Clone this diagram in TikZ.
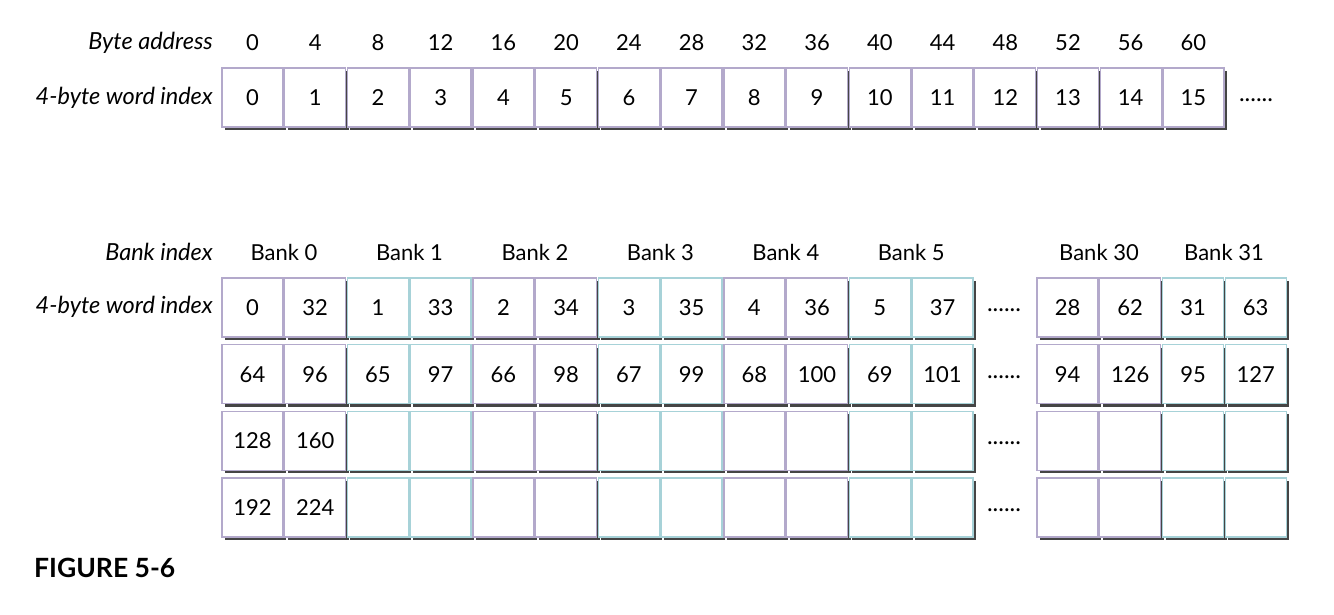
\documentclass[tikz,border=0pt]{standalone}
\usepackage{fontspec}
\setmainfont{Lato}
\usetikzlibrary{shadows}
\definecolor{lav}{HTML}{B3A9CB}
\definecolor{tealc}{HTML}{A7D2D8}
\definecolor{shd}{HTML}{454545}
\tikzset{
  cell/.style={draw=#1, line width=1.4pt, fill=white, minimum width=61pt, minimum height=59pt,
    inner sep=0pt, font=\fontsize{22}{26}\selectfont,
    drop shadow={shadow xshift=3pt, shadow yshift=-3pt, fill=shd, opacity=1}},
  cell/.default=lav,
  lbl/.style={anchor=east, inner sep=0pt, font=\fontsize{23.5}{28}\selectfont\itshape},
  hdr/.style={inner sep=0pt, font=\fontsize{22}{26}\selectfont},
  dots/.style={inner sep=0pt, font=\fontsize{24}{28}\selectfont},
}
\begin{document}
\begin{tikzpicture}[x=1pt,y=-1pt]
\useasboundingbox (0,0) rectangle (1334,614);
% top labels
\node[lbl] (ba) at (213,43) {Byte address};
\node[lbl] (wi1) at (213,98) {4-byte word index};
\foreach \i in {0,...,15}{
  \pgfmathtruncatemacro\addr{4*\i}
  \node[hdr] (a\i) at (252.5+62.73*\i,43) {\addr};
  \node[cell] (t\i) at (252.5+62.73*\i,97.5) {\i};
}
\node[dots] (tdots) at (1256,100) {......};
% bank labels
\node[lbl] (bi) at (213,252) {Bank index};
\node[lbl] (wi2) at (213,307) {4-byte word index};
\foreach \b in {0,...,5}{
  \node[hdr] (bank\b) at (284+125.46*\b,252) {Bank \b};
}
\node[hdr] (bank30) at (1099,252) {Bank 30};
\node[hdr] (bank31) at (1224,252) {Bank 31};
% bank cells
\foreach \r in {0,...,3}{
  \foreach \b in {0,...,5}{
    \pgfmathtruncatemacro\odd{mod(\b,2)}
    \ifnum\odd=1 \def\col{tealc}\else \def\col{lav}\fi
    \pgfmathtruncatemacro\va{\b+64*\r}
    \pgfmathtruncatemacro\vb{\b+32+64*\r}
    \ifnum\r<2
      \node[cell=\col] (c\r-\b-a) at (252.5+125.46*\b,307.5+66.7*\r) {\va};
      \node[cell=\col] (c\r-\b-b) at (315.23+125.46*\b,307.5+66.7*\r) {\vb};
    \else
      \ifnum\b=0
        \node[cell=\col] (c\r-\b-a) at (252.5+125.46*\b,307.5+66.7*\r) {\va};
        \node[cell=\col] (c\r-\b-b) at (315.23+125.46*\b,307.5+66.7*\r) {\vb};
      \else
        \node[cell=\col] (c\r-\b-a) at (252.5+125.46*\b,307.5+66.7*\r) {};
        \node[cell=\col] (c\r-\b-b) at (315.23+125.46*\b,307.5+66.7*\r) {};
      \fi
    \fi
  }
  \node[dots] (d\r) at (1004,310+66.7*\r) {......};
  \ifnum\r<2
    \pgfmathtruncatemacro\vva{28+66*\r}
    \pgfmathtruncatemacro\vvb{62+64*\r}
    \pgfmathtruncatemacro\vvc{31+64*\r}
    \pgfmathtruncatemacro\vvd{63+64*\r}
    \node[cell=lav] (c\r-30-a) at (1067.5,307.5+66.7*\r) {\vva};
    \node[cell=lav] (c\r-30-b) at (1130.2,307.5+66.7*\r) {\vvb};
    \node[cell=tealc] (c\r-31-a) at (1193,307.5+66.7*\r) {\vvc};
    \node[cell=tealc] (c\r-31-b) at (1255.7,307.5+66.7*\r) {\vvd};
  \else
    \node[cell=lav] (c\r-30-a) at (1067.5,307.5+66.7*\r) {};
    \node[cell=lav] (c\r-30-b) at (1130.2,307.5+66.7*\r) {};
    \node[cell=tealc] (c\r-31-a) at (1193,307.5+66.7*\r) {};
    \node[cell=tealc] (c\r-31-b) at (1255.7,307.5+66.7*\r) {};
  \fi
}
\node[anchor=west, inner sep=0pt, font=\fontsize{26.5}{30}\selectfont\bfseries] (fig) at (34,568) {FIGURE 5-6};
\end{tikzpicture}
\end{document}
